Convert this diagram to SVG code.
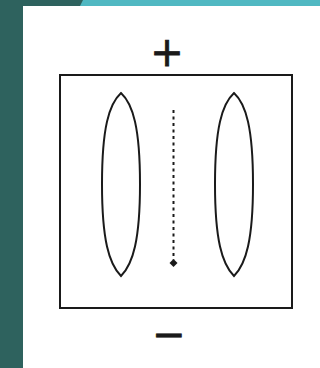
<svg xmlns="http://www.w3.org/2000/svg" width="320" height="368" viewBox="0 0 320 368">
<style>
.ln{fill:none;stroke:#1a1a1a;stroke-width:2}
.sign{font-family:"DejaVu Sans",sans-serif;font-size:40px;fill:#1a1a1a;stroke:#1a1a1a;stroke-width:0.8;text-anchor:middle}
</style>
<rect x="0" y="0" width="320" height="368" fill="#ffffff"/>
<rect x="0" y="0" width="320" height="6" fill="#50b8c2"/>
<polygon points="0,0 83,0 80,6 0,6" fill="#2e625e"/>
<rect x="0" y="0" width="23" height="368" fill="#2e625e"/>
<g id="box"><rect class="ln" x="60" y="75" width="232" height="233"/></g>
<g id="plus"><text class="sign" x="167" y="66">+</text></g>
<g id="minus"><text class="sign" x="169" y="348">−</text></g>
<g id="left-plate"><path class="ln" d="M121 93 C133 104,140 128,140 184 C140 240,133 264,121 276 C109 264,102 240,102 184 C102 128,109 104,121 93 Z"/></g>
<g id="right-plate"><path class="ln" d="M234 93 C246 104,253 128,253 184 C253 240,246 264,234 276 C222 264,215 240,215 184 C215 128,222 104,234 93 Z"/></g>
<g id="connectors">
<line class="ln" x1="173.5" y1="110" x2="173.5" y2="260" stroke-dasharray="3 3.5" stroke-width="2.6"/>
<polygon points="173.5,259 177.5,263 173.5,267 169.5,263" fill="#1a1a1a"/>
</g>
</svg>
